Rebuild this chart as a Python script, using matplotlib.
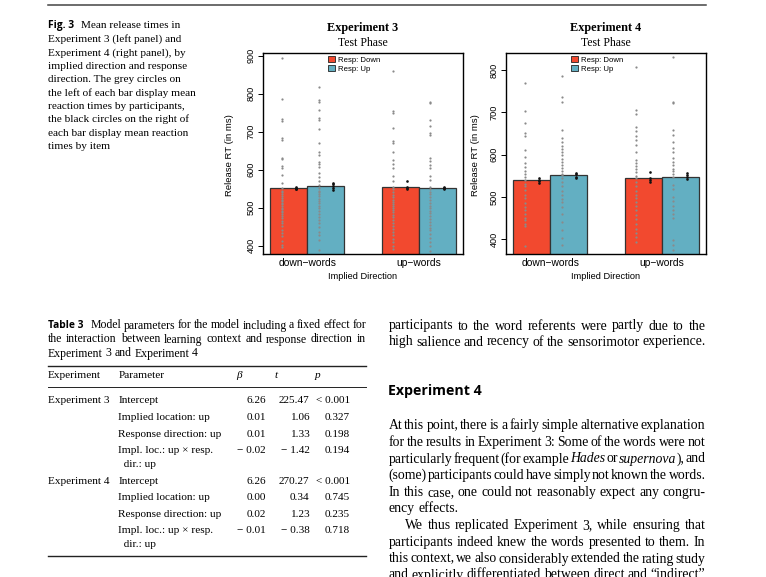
import matplotlib
matplotlib.use('Agg')
import matplotlib.pyplot as plt
from matplotlib.patches import Patch

# ---- chart data ----
directions = ['down\u2212words', 'up\u2212words']
responses = ['Resp: Down', 'Resp: Up']

exp3_means = [[551, 557], [555, 552]]
exp4_means = [[540, 551], [544, 548]]

# participant means (grey), per implied direction x response
exp3_subj_dd = [895, 787, 733, 728, 683, 677, 630, 627, 610, 604, 586, 564, 551, 545, 540, 535,
                530, 525, 520, 517, 513, 510, 505, 500, 496, 492, 488, 483, 478, 472, 466, 460,
                452, 440, 432, 425, 412, 402, 396]
exp3_subj_du = [818, 783, 779, 757, 735, 731, 706, 669, 647, 639, 621, 614, 608, 591, 580, 570,
                560, 552, 545, 540, 535, 530, 524, 518, 512, 505, 498, 490, 484, 476, 468, 460,
                450, 437, 428, 415, 389]
exp3_subj_ud = [860, 755, 748, 709, 676, 669, 647, 625, 615, 604, 582, 570, 555, 548, 540, 533,
                527, 520, 515, 510, 505, 500, 495, 488, 480, 475, 468, 460, 452, 445, 436, 428,
                418, 410, 400, 390]
exp3_subj_uu = [779, 775, 731, 715, 696, 691, 630, 622, 613, 604, 582, 572, 555, 548, 542, 535,
                528, 520, 512, 505, 498, 492, 485, 478, 470, 462, 455, 447, 440, 430, 420, 410,
                398, 385]
exp4_subj_dd = [770, 703, 675, 650, 645, 610, 595, 580, 570, 560, 553, 548, 540, 530, 525, 517,
                505, 498, 485, 475, 470, 460, 450, 445, 435, 430, 385]
exp4_subj_du = [786, 737, 725, 658, 638, 630, 620, 612, 605, 598, 590, 582, 575, 568, 560, 555,
                551, 544, 535, 525, 515, 505, 495, 488, 475, 460, 441, 421, 403, 386]
exp4_subj_ud = [808, 705, 697, 666, 655, 645, 635, 622, 607, 587, 580, 572, 565, 558, 550, 544,
                536, 525, 515, 505, 498, 488, 478, 468, 458, 447, 437, 425, 415, 405, 394]
exp4_subj_uu = [830, 725, 721, 658, 646, 630, 615, 607, 591, 583, 575, 567, 560, 553, 547, 528,
                518, 500, 490, 478, 470, 460, 450, 398, 386, 374]

# item means (black)
exp3_item_dd = [555, 552, 550, 548]
exp3_item_du = [566, 561, 556, 551, 547]
exp3_item_ud = [571, 555, 551, 548]
exp3_item_uu = [555, 553, 551, 550]
exp4_item_dd = [545, 541, 537, 533]
exp4_item_du = [557, 553, 548, 544]
exp4_item_ud = [558, 544, 540, 535]
exp4_item_uu = [557, 552, 547, 542]

# ---- table data ----
tab_exp = ['Experiment 3', '', '', '', '', 'Experiment 4', '', '', '', '']
tab_param = ['Intercept', 'Implied location: up', 'Response direction: up',
             'Impl. loc.: up \u00d7 resp.', '  dir.: up',
             'Intercept', 'Implied location: up', 'Response direction: up',
             'Impl. loc.: up \u00d7 resp.', '  dir.: up']
tab_beta = ['6.26', '0.01', '0.01', '\u2212 0.02', '', '6.26', '0.00', '0.02', '\u2212 0.01', '']
tab_t = ['225.47', '1.06', '1.33', '\u2212 1.42', '', '270.27', '0.34', '1.23', '\u2212 0.38', '']
tab_p = ['< 0.001', '0.327', '0.198', '0.194', '', '< 0.001', '0.745', '0.235', '0.718', '']
tab_rows_y = [400, 416.7, 433.3, 450, 464, 480.7, 496.7, 513.3, 530, 543.3]

RED = '#f2492f'
BLUE = '#63afc2'
SERIF = 'Liberation Serif'
SANS = 'Liberation Sans'
HEAD = 'Open Sans'

W, H = 766, 577
fig = plt.figure(figsize=(W / 100, H / 100), dpi=100)
page = fig.add_axes([0, 0, 1, 1])
page.set_xlim(0, W)
page.set_ylim(H, 0)
page.axis('off')
renderer = fig.canvas.get_renderer()


def justify(x0, x1, y, line, size, full=True, lead=None):
    """draw one text line word by word, spread to x0..x1 (words in /../ are italic)"""
    x = x0
    if lead is not None:
        t = page.text(x, y, lead, fontsize=7.4, family=HEAD, weight='bold',
                      va='baseline', ha='left')
        x += t.get_window_extent(renderer).width + 7
    parts = []
    for w in line.split(' '):
        arts = []
        for k, s in enumerate(w.split('/')):
            if s:
                arts.append(page.text(0, y, s, fontsize=size, family=SERIF,
                                      style='italic' if k % 2 else 'normal',
                                      va='baseline', ha='left'))
        parts.append(arts)
    widths = [[a.get_window_extent(renderer).width for a in arts] for arts in parts]
    total = sum(sum(ws) for ws in widths)
    space = size * 100 / 72 * 0.25
    gap = (x1 - x - total) / (len(parts) - 1) if full and len(parts) > 1 else space
    for arts, ws in zip(parts, widths):
        for a, wd in zip(arts, ws):
            a.set_x(x)
            x += wd
        x += gap


# top rule
page.plot([48, 706], [5, 5], color='#444444', lw=1.1)

# figure caption
cap_lines = ['Mean release times in', 'Experiment 3 (left panel) and',
             'Experiment 4 (right panel), by', 'implied direction and response',
             'direction. The grey circles on', 'the left of each bar display mean',
             'reaction times by participants,', 'the black circles on the right of',
             'each bar display mean reaction', 'times by item']
cap_y = [28, 42, 55.5, 69, 82.5, 95.8, 109.3, 122.5, 136, 149]
page.text(48, cap_y[0], 'Fig. 3', fontsize=7.4, family=HEAD, weight='bold', va='baseline')
for i, (ln, yy) in enumerate(zip(cap_lines, cap_y)):
    page.text(81 if i == 0 else 48, yy, ln, fontsize=8.1, family=SERIF, va='baseline')


def panel(left, title, means, subj, items, ylim, yticks, ylab_x):
    ax = fig.add_axes([left / W, 1 - 254 / H, 200 / W, 201 / H])
    for g in range(2):
        for j in range(2):
            xc = 1.5 + 3 * g + j
            ax.bar(xc, means[g][j], width=1, color=[RED, BLUE][j],
                   edgecolor='#333333', lw=0.9, zorder=1)
            sv = subj[g][j]
            ax.plot([xc - 0.2] * len(sv), sv, 'o', ms=1.6, color='#8a8a8a',
                    mec='none', zorder=2)
            iv = items[g][j]
            ax.plot([xc + 0.2] * len(iv), iv, 'o', ms=1.9, color='#111111',
                    mec='none', zorder=3)
    ax.set_xlim(0.8, 6.2)
    ax.set_ylim(*ylim)
    ax.set_yticks(yticks)
    ax.set_xticks([2, 5])
    ax.set_xticklabels(directions, fontsize=7.4, family=SANS)
    ax.tick_params(axis='x', length=0, pad=2.6)
    ax.tick_params(axis='y', length=3.6, width=0.7, pad=1.5, labelsize=6.6,
                   labelrotation=90)
    for lbl in ax.get_yticklabels():
        lbl.set_family(SANS)
        lbl.set_va('center')
    for sp in ax.spines.values():
        sp.set_linewidth(1.0)
    handles = [Patch(facecolor=RED, edgecolor='#222222', lw=0.6),
               Patch(facecolor=BLUE, edgecolor='#222222', lw=0.6)]
    ax.legend(handles, responses, loc='upper left', bbox_to_anchor=(0.3, 1.01),
              frameon=False, prop={'family': SANS, 'size': 5.6}, handlelength=0.8,
              handleheight=0.8, handletextpad=0.4, labelspacing=0.1, borderpad=0.2)
    cx = left + 100
    page.text(cx, 27.5, title, fontsize=8.8, family=SERIF, weight='bold',
              ha='center', va='center')
    page.text(cx, 43, 'Test Phase', fontsize=8.5, family=SERIF, ha='center', va='center')
    page.text(cx, 276.5, 'Implied Direction', fontsize=6.7, family=SANS,
              ha='center', va='center')
    page.text(ylab_x, 155, 'Release RT (in ms)', fontsize=6.8, family=SANS,
              rotation=90, ha='center', va='center')
    return ax


panel(263, 'Experiment 3', exp3_means,
      [[exp3_subj_dd, exp3_subj_du], [exp3_subj_ud, exp3_subj_uu]],
      [[exp3_item_dd, exp3_item_du], [exp3_item_ud, exp3_item_uu]],
      (378, 907), [400, 500, 600, 700, 800, 900], 230)
panel(506, 'Experiment 4', exp4_means,
      [[exp4_subj_dd, exp4_subj_du], [exp4_subj_ud, exp4_subj_uu]],
      [[exp4_item_dd, exp4_item_du], [exp4_item_ud, exp4_item_uu]],
      (365, 840), [400, 500, 600, 700, 800], 475)

# table caption
CAP = 8.5
justify(48, 366, 328.5, 'Model parameters for the model including a fixed effect for', CAP,
        lead='Table 3')
justify(48, 366, 342.5, 'the interaction between learning context and response direction in', CAP)
justify(48, 366, 356.5, 'Experiment 3 and Experiment 4', CAP, full=False)

# table
page.plot([48, 366], [365.5, 365.5], color='#222222', lw=1.0)
page.plot([48, 366], [387.3, 387.3], color='#222222', lw=0.7)
page.plot([48, 366], [555.5, 555.5], color='#222222', lw=1.0)
page.text(48, 378.5, 'Experiment', fontsize=8.1, family=SERIF, va='baseline')
page.text(118.5, 378.5, 'Parameter', fontsize=8.1, family=SERIF, va='baseline')
page.text(239, 378.5, '\u03b2', fontsize=8.1, family=SERIF, style='italic', va='baseline',
          ha='center')
page.text(276.5, 378.5, 't', fontsize=8.1, family=SERIF, style='italic', va='baseline',
          ha='center')
page.text(317, 378.5, 'p', fontsize=8.1, family=SERIF, style='italic', va='baseline',
          ha='center')
for e, pa, b, tv, pv, yy in zip(tab_exp, tab_param, tab_beta, tab_t, tab_p, tab_rows_y):
    yb = yy + 3.3
    page.text(48, yb, e, fontsize=8.1, family=SERIF, va='baseline')
    page.text(118.5, yb, pa, fontsize=8.1, family=SERIF, va='baseline')
    page.text(266, yb, b, fontsize=8.1, family=SERIF, va='baseline', ha='right')
    page.text(309.5, yb, tv, fontsize=8.1, family=SERIF, va='baseline', ha='right')
    page.text(350, yb, pv, fontsize=8.1, family=SERIF, va='baseline', ha='right')

# right text column
BODY = 9.9
X0, X1 = 388.5, 705.5
justify(X0, X1, 329.5, 'participants to the word referents were partly due to the', BODY)
justify(X0, X1, 345.5, 'high salience and recency of the sensorimotor experience.', BODY)
page.text(X0, 395.5, 'Experiment 4', fontsize=10.2, family=HEAD, weight='bold', va='baseline')
body = [
    ('At this point, there is a fairly simple alternative explanation', 429, True, X0),
    ('for the results in Experiment 3: Some of the words were not', 445.7, True, X0),
    ('particularly frequent (for example /Hades/ or /supernova/), and', 462.5, True, X0),
    ('(some) participants could have simply not known the words.', 479, True, X0),
    ('In this case, one could not reasonably expect any congru-', 495.7, True, X0),
    ('ency effects.', 512.3, False, X0),
    ('We thus replicated Experiment 3, while ensuring that', 529, True, 405),
    ('participants indeed knew the words presented to them. In', 545.7, True, X0),
    ('this context, we also considerably extended the rating study', 562.5, True, X0),
    ('and explicitly differentiated between direct and \u201cindirect\u201d', 578.5, True, X0),
]
for ln, yy, full, x0 in body:
    justify(x0, X1, yy, ln, BODY, full=full)

fig.savefig('out.png', dpi=100)
